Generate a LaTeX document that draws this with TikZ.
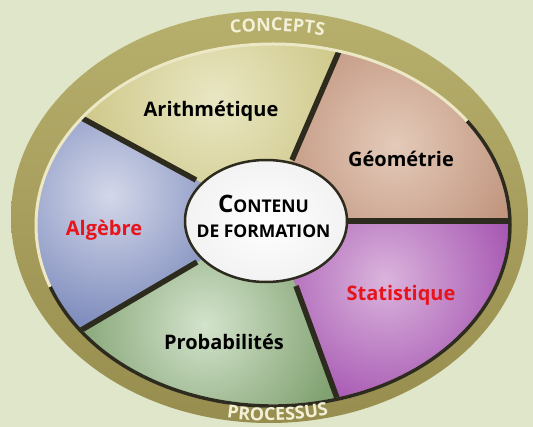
\documentclass[tikz,border=0pt]{standalone}
\usepackage{fontspec}
\setmainfont{Open Sans}
\usetikzlibrary{calc,decorations.text}
\definecolor{bg}{HTML}{DFE6C9}
\definecolor{ringT}{HTML}{B7AF6C}
\definecolor{ringB}{HTML}{978D4E}
\definecolor{ringtxt}{HTML}{F3F0D8}
\definecolor{sep}{HTML}{2D2A1E}
\definecolor{pale}{HTML}{ECE8C6}
\definecolor{arithO}{HTML}{CBC482}
\definecolor{arithI}{HTML}{E9E7C3}
\definecolor{geoO}{HTML}{BE917A}
\definecolor{geoI}{HTML}{E4CAB9}
\definecolor{statO}{HTML}{A452B0}
\definecolor{statI}{HTML}{DAB4DC}
\definecolor{probO}{HTML}{80A170}
\definecolor{probI}{HTML}{D3E3CC}
\definecolor{algO}{HTML}{808EBE}
\definecolor{algI}{HTML}{D3D7E9}
\definecolor{redlbl}{HTML}{E8141C}
\newcommand\ringfmt{\color{ringtxt}\fontsize{18}{18}\selectfont\bfseries}
\tikzset{
  lbl/.style={font=\fontsize{20}{24}\selectfont\bfseries, text=black, inner sep=0pt, anchor=base},
  redl/.style={lbl, text=redlbl},
  sepline/.style={draw=sep, line width=5.5pt},
  ctrtxt/.style={font=\fontsize{17.5}{20}\selectfont\bfseries, text=black, inner sep=0pt, anchor=base}
}
\begin{document}
\begin{tikzpicture}[x=1pt,y=1pt]
\useasboundingbox (0,0) rectangle (533,-427);
\fill[bg] (0,0) rectangle (533,-427);
% outer ring
\shade[top color=ringT, bottom color=ringB] (269.5,-217) ellipse [x radius=258.5, y radius=206];
% separator points
\coordinate (C) at (266,-221);
\coordinate (i1) at (292,-160); \coordinate (o1) at (340,-49);
\coordinate (i2) at (347,-221); \coordinate (o2) at (510,-221);
\coordinate (i3) at (296,-286); \coordinate (o3) at (337,-398);
\coordinate (i4) at (197,-262); \coordinate (o4) at (78,-332);
\coordinate (i5) at (196,-180); \coordinate (o5) at (80,-117);
\foreach \k in {1,...,5} { \coordinate (f\k) at ($(i\k)!4!(o\k)$); }
\begin{scope}
\clip (273,-225) ellipse [x radius=237, y radius=181];
% Arithmetique
\begin{scope}
\clip (C) -- (i5) -- (f5) -- (f1) -- (i1) -- cycle;
\fill[arithO] (0,0) rectangle (533,-427);
\shade[inner color=arithI, outer color=arithO] (215,-100) circle (150);
\end{scope}
% Geometrie
\begin{scope}
\clip (C) -- (i1) -- (f1) -- (f2) -- (i2) -- cycle;
\fill[geoO] (0,0) rectangle (533,-427);
\shade[inner color=geoI, outer color=geoO] (395,-145) circle (140);
\end{scope}
% Statistique
\begin{scope}
\clip (C) -- (i2) -- (f2) -- (f3) -- (i3) -- cycle;
\fill[statO] (0,0) rectangle (533,-427);
\shade[inner color=statI, outer color=statO] (385,-280) circle (140);
\end{scope}
% Probabilites
\begin{scope}
\clip (C) -- (i3) -- (f3) -- (f4) -- (i4) -- cycle;
\fill[probO] (0,0) rectangle (533,-427);
\shade[inner color=probI, outer color=probO] (205,-325) circle (140);
\end{scope}
% Algebre
\begin{scope}
\clip (C) -- (i4) -- (f4) -- (f5) -- (i5) -- cycle;
\fill[algO] (0,0) rectangle (533,-427);
\shade[inner color=algI, outer color=algO] (110,-195) circle (130);
\end{scope}
% separators
\foreach \k in {1,...,5} { \draw[sepline] (i\k) -- ($(i\k)!1.3!(o\k)$); }
\end{scope}
% rim of the sector disc
\draw[pale, line width=3pt] (273,-225) ellipse [x radius=237, y radius=181];
\draw[sep, line width=3.5pt] ([shift={(273,-225)}]200:237 and 181) arc[start angle=200, end angle=395, x radius=237, y radius=181];
% centre
\shade[inner color=white, outer color=white!95!black, draw=sep, line width=2.5pt] (C) ellipse [x radius=81, y radius=61];
\node[ctrtxt] (cA) at (263.5,-213) {{\fontsize{24}{24}\selectfont C}ONTENU};
\node[ctrtxt] (cB) at (263.5,-238) {DE FORMATION};
% labels
\node[lbl] (arith) at (211,-117) {Arithmétique};
\node[lbl] (geo) at (401,-167) {Géométrie};
\node[redl] (alg) at (104,-236) {Algèbre};
\node[redl] (stat) at (401,-301) {Statistique};
\node[lbl] (prob) at (224,-350) {Probabilités};
% ring texts
\path[decorate, decoration={text along path, text align=center, text={|\ringfmt|CONCEPTS}}]
  ([shift={(269.5,-217)}]123:240 and 186) arc[start angle=123, end angle=53, x radius=240, y radius=186];
\path[decorate, decoration={text along path, text align=center, text={|\ringfmt|PROCESSUS}}]
  ([shift={(269.5,-217)}]237:248 and 204) arc[start angle=237, end angle=307, x radius=248, y radius=204];
\end{tikzpicture}
\end{document}
